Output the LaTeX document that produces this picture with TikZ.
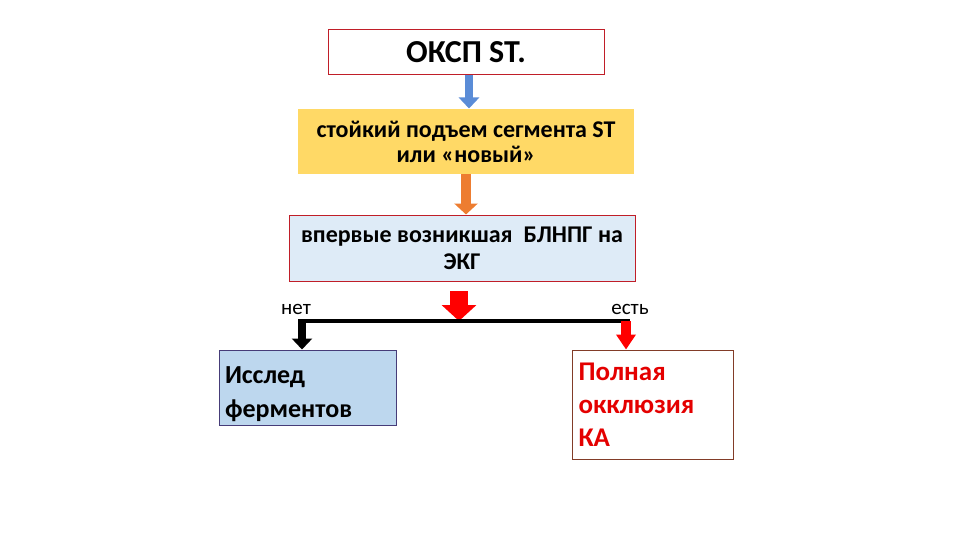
\documentclass[tikz,border=0pt]{standalone}
\usepackage{fontspec}
\setmainfont{Carlito}
\usetikzlibrary{arrows.meta,positioning}

\definecolor{boxred}{RGB}{192,30,40}
\definecolor{stgold}{RGB}{255,217,102}
\definecolor{ekgblue}{RGB}{222,235,247}
\definecolor{ferblue}{RGB}{189,215,238}
\definecolor{ferline}{RGB}{70,60,120}
\definecolor{kabrown}{RGB}{130,60,40}
\definecolor{kared}{RGB}{228,0,0}
\definecolor{arrblue}{RGB}{90,140,215}
\definecolor{arrorange}{RGB}{237,125,49}

\begin{document}
\begin{tikzpicture}[x=1pt,
            y=-1pt,
            node distance=33pt,
            box/.style={draw, rectangle, line width=1pt, inner sep=0pt,
                        align=center, font=\bfseries},
            leftbox/.style={box, align=left, inner xsep=6pt, inner ysep=0pt},
            lbl/.style={font=\fontsize{21}{21}\selectfont},
            fat/.style={line width=8pt, -{Triangle[length=11pt,width=20pt]}}]

        \useasboundingbox (0,0) rectangle (960,540);

        \node[box, draw=boxred, fill=white, minimum width=276pt, minimum height=45pt,
              font=\bfseries\fontsize{32}{32}\selectfont]
              (acs) at (466,52.5) {ОКСП ST.};
        \node[box, draw=none, fill=stgold, minimum width=336pt, minimum height=65pt,
              font=\bfseries\fontsize{24}{25}\selectfont]
              (rise) [below=33pt of acs] {стойкий подъем сегмента ST\\или «новый»};
        \node[box, draw=boxred, fill=ekgblue, minimum width=346pt, minimum height=66pt,
              font=\bfseries\fontsize{24}{27}\selectfont]
              (lbbb) [below=40pt of rise, xshift=-4pt] {впервые возникшая~~БЛНПГ на\\ЭКГ};

        \node[leftbox, draw=ferline, fill=ferblue, minimum width=177pt, minimum height=75pt,
              text width=165pt, font=\bfseries\fontsize{26}{34}\selectfont]
              (enz) at (307.5,387.5) {\rule{0pt}{30pt}Исслед\\ферментов};
        \node[leftbox, draw=kabrown, fill=white, minimum width=161pt, minimum height=109pt,
              text width=149pt, text=kared, font=\bfseries\fontsize{27}{33}\selectfont]
              (occl) at (653,404.5) {Полная\\окклюзия\\КА};

        \coordinate (fork)   at (459,321);
        \coordinate (forktop) at (459,291);
        \coordinate (nofork) at (302,321);
        \coordinate (yesfork) at (626,321);

        \node[lbl] (no)  at (296,309) {нет};
        \node[lbl] (yes) at (630,309) {есть};

        \path ([xshift=3pt]acs.south) edge [fat, draw=arrblue, fill=arrblue]
                  ([xshift=3pt]acs.south |- rise.north)
              (rise.south) edge [draw=arrorange, fill=arrorange, line width=10pt,
                  -{Triangle[length=11pt,width=23pt]}] (rise.south |- lbbb.north);

        \draw[red, line width=18pt, -{Triangle[length=16pt,width=34pt]}] (forktop) -- (fork);
        \draw[line width=4pt] ([xshift=-4pt]nofork) -- ([xshift=4pt]yesfork);
        \draw[fat, black] (nofork) -- (nofork |- enz.north);
        \draw[red, line width=10pt, -{Triangle[length=15pt,width=19pt]}]
              (yesfork) -- (yesfork |- occl.north);

    \end{tikzpicture}
\end{document}
